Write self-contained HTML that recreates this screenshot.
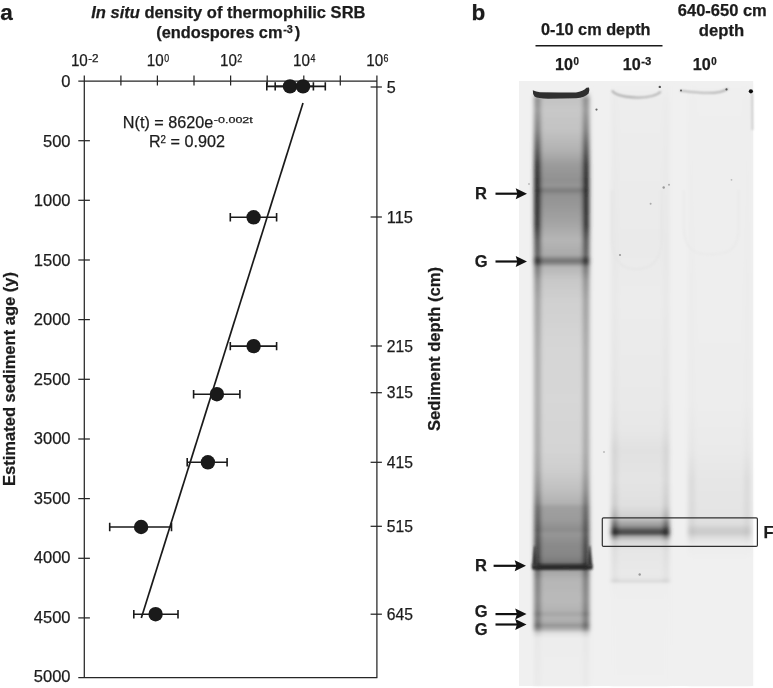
<!DOCTYPE html>
<html><head><meta charset="utf-8"><title>Figure</title>
<style>
html,body{margin:0;padding:0;background:#fff}
svg{display:block}
text{font-family:"Liberation Sans",Arial,Helvetica,sans-serif;fill:#1c1c1c;stroke:#1c1c1c;stroke-width:0.25px}
.b{font-weight:bold}
.i{font-style:italic}
</style></head><body>
<svg width="773" height="688" viewBox="0 0 773 688">
<defs>
<filter id="bl1" x="-20%" y="-5%" width="140%" height="110%"><feGaussianBlur stdDeviation="2.0 0.9"/></filter>
<filter id="bl2" x="-20%" y="-5%" width="140%" height="110%"><feGaussianBlur stdDeviation="2.2 1.2"/></filter>
<filter id="bl3" x="-20%" y="-100%" width="140%" height="300%"><feGaussianBlur stdDeviation="0.9"/></filter>
<filter id="bl5" x="-50%" y="-50%" width="200%" height="200%"><feGaussianBlur stdDeviation="1.2"/></filter>
<filter id="bl6" x="-10%" y="-10%" width="120%" height="120%" filterUnits="userSpaceOnUse"><feGaussianBlur stdDeviation="0.8"/></filter>
<filter id="bl7" x="-10%" y="-10%" width="120%" height="120%" filterUnits="userSpaceOnUse"><feGaussianBlur stdDeviation="1.0 0.8"/></filter>
<filter id="bl4" x="-50%" y="-50%" width="200%" height="200%"><feGaussianBlur stdDeviation="0.6"/></filter>
<linearGradient id="l1c" x1="0" y1="0" x2="0" y2="1">
<stop offset="0.0000" stop-color="rgb(240,240,240)"/>
<stop offset="0.0050" stop-color="rgb(240,240,240)"/>
<stop offset="0.0184" stop-color="rgb(195,195,195)"/>
<stop offset="0.0368" stop-color="rgb(200,200,200)"/>
<stop offset="0.0702" stop-color="rgb(195,195,195)"/>
<stop offset="0.1037" stop-color="rgb(178,178,178)"/>
<stop offset="0.1288" stop-color="rgb(155,155,155)"/>
<stop offset="0.1538" stop-color="rgb(145,145,145)"/>
<stop offset="0.1639" stop-color="rgb(148,148,148)"/>
<stop offset="0.1689" stop-color="rgb(132,132,132)"/>
<stop offset="0.1714" stop-color="rgb(125,125,125)"/>
<stop offset="0.1739" stop-color="rgb(132,132,132)"/>
<stop offset="0.1789" stop-color="rgb(146,146,146)"/>
<stop offset="0.2040" stop-color="rgb(155,155,155)"/>
<stop offset="0.2291" stop-color="rgb(166,166,166)"/>
<stop offset="0.2542" stop-color="rgb(182,182,182)"/>
<stop offset="0.2793" stop-color="rgb(170,170,170)"/>
<stop offset="0.2860" stop-color="rgb(130,130,130)"/>
<stop offset="0.2893" stop-color="rgb(115,115,115)"/>
<stop offset="0.2926" stop-color="rgb(130,130,130)"/>
<stop offset="0.2993" stop-color="rgb(182,182,182)"/>
<stop offset="0.3211" stop-color="rgb(200,200,200)"/>
<stop offset="0.3545" stop-color="rgb(208,208,208)"/>
<stop offset="0.4381" stop-color="rgb(214,214,214)"/>
<stop offset="0.5217" stop-color="rgb(215,215,215)"/>
<stop offset="0.6054" stop-color="rgb(212,212,212)"/>
<stop offset="0.6388" stop-color="rgb(206,206,206)"/>
<stop offset="0.6722" stop-color="rgb(192,192,192)"/>
<stop offset="0.6940" stop-color="rgb(178,178,178)"/>
<stop offset="0.7007" stop-color="rgb(160,160,160)"/>
<stop offset="0.7224" stop-color="rgb(155,155,155)"/>
<stop offset="0.7391" stop-color="rgb(140,140,140)"/>
<stop offset="0.7458" stop-color="rgb(150,150,150)"/>
<stop offset="0.7642" stop-color="rgb(138,138,138)"/>
<stop offset="0.7809" stop-color="rgb(135,135,135)"/>
<stop offset="0.7926" stop-color="rgb(122,122,122)"/>
<stop offset="0.7977" stop-color="rgb(70,70,70)"/>
<stop offset="0.8043" stop-color="rgb(70,70,70)"/>
<stop offset="0.8077" stop-color="rgb(165,165,165)"/>
<stop offset="0.8227" stop-color="rgb(182,182,182)"/>
<stop offset="0.8562" stop-color="rgb(186,186,186)"/>
<stop offset="0.8729" stop-color="rgb(180,180,180)"/>
<stop offset="0.8796" stop-color="rgb(165,165,165)"/>
<stop offset="0.8863" stop-color="rgb(178,178,178)"/>
<stop offset="0.8930" stop-color="rgb(172,172,172)"/>
<stop offset="0.8988" stop-color="rgb(150,150,150)"/>
<stop offset="0.9047" stop-color="rgb(174,174,174)"/>
<stop offset="0.9114" stop-color="rgb(224,224,224)"/>
<stop offset="0.9197" stop-color="rgb(237,237,237)"/>
<stop offset="1.0000" stop-color="rgb(238,238,238)"/>
</linearGradient>
<linearGradient id="l1e" x1="0" y1="0" x2="0" y2="1">
<stop offset="0.0000" stop-color="rgb(240,240,240)"/>
<stop offset="0.0050" stop-color="rgb(240,240,240)"/>
<stop offset="0.0184" stop-color="rgb(140,140,140)"/>
<stop offset="0.0368" stop-color="rgb(150,150,150)"/>
<stop offset="0.0702" stop-color="rgb(125,125,125)"/>
<stop offset="0.1037" stop-color="rgb(80,80,80)"/>
<stop offset="0.1288" stop-color="rgb(45,45,45)"/>
<stop offset="0.1538" stop-color="rgb(35,35,35)"/>
<stop offset="0.1639" stop-color="rgb(35,35,35)"/>
<stop offset="0.1689" stop-color="rgb(32,32,32)"/>
<stop offset="0.1714" stop-color="rgb(30,30,30)"/>
<stop offset="0.1739" stop-color="rgb(32,32,32)"/>
<stop offset="0.1789" stop-color="rgb(35,35,35)"/>
<stop offset="0.2040" stop-color="rgb(35,35,35)"/>
<stop offset="0.2291" stop-color="rgb(40,40,40)"/>
<stop offset="0.2542" stop-color="rgb(80,80,80)"/>
<stop offset="0.2793" stop-color="rgb(92,92,92)"/>
<stop offset="0.2860" stop-color="rgb(50,50,50)"/>
<stop offset="0.2893" stop-color="rgb(40,40,40)"/>
<stop offset="0.2926" stop-color="rgb(55,55,55)"/>
<stop offset="0.2993" stop-color="rgb(115,115,115)"/>
<stop offset="0.3211" stop-color="rgb(145,145,145)"/>
<stop offset="0.3545" stop-color="rgb(160,160,160)"/>
<stop offset="0.4381" stop-color="rgb(170,170,170)"/>
<stop offset="0.5217" stop-color="rgb(172,172,172)"/>
<stop offset="0.6054" stop-color="rgb(168,168,168)"/>
<stop offset="0.6388" stop-color="rgb(160,160,160)"/>
<stop offset="0.6722" stop-color="rgb(140,140,140)"/>
<stop offset="0.6940" stop-color="rgb(118,118,118)"/>
<stop offset="0.7007" stop-color="rgb(105,105,105)"/>
<stop offset="0.7224" stop-color="rgb(92,92,92)"/>
<stop offset="0.7391" stop-color="rgb(80,80,80)"/>
<stop offset="0.7458" stop-color="rgb(85,85,85)"/>
<stop offset="0.7642" stop-color="rgb(70,70,70)"/>
<stop offset="0.7809" stop-color="rgb(62,62,62)"/>
<stop offset="0.7926" stop-color="rgb(55,55,55)"/>
<stop offset="0.7977" stop-color="rgb(40,40,40)"/>
<stop offset="0.8043" stop-color="rgb(45,45,45)"/>
<stop offset="0.8077" stop-color="rgb(105,105,105)"/>
<stop offset="0.8227" stop-color="rgb(128,128,128)"/>
<stop offset="0.8562" stop-color="rgb(135,135,135)"/>
<stop offset="0.8729" stop-color="rgb(128,128,128)"/>
<stop offset="0.8796" stop-color="rgb(112,112,112)"/>
<stop offset="0.8863" stop-color="rgb(128,128,128)"/>
<stop offset="0.8930" stop-color="rgb(120,120,120)"/>
<stop offset="0.8988" stop-color="rgb(102,102,102)"/>
<stop offset="0.9047" stop-color="rgb(132,132,132)"/>
<stop offset="0.9114" stop-color="rgb(206,206,206)"/>
<stop offset="0.9197" stop-color="rgb(232,232,232)"/>
<stop offset="1.0000" stop-color="rgb(234,234,234)"/>
</linearGradient>
<linearGradient id="l2c" x1="0" y1="0" x2="0" y2="1">
<stop offset="0.0000" stop-color="rgb(240,240,240)"/>
<stop offset="0.0266" stop-color="rgb(237,237,237)"/>
<stop offset="0.2757" stop-color="rgb(234,234,234)"/>
<stop offset="0.3588" stop-color="rgb(236,236,236)"/>
<stop offset="0.5249" stop-color="rgb(233,233,233)"/>
<stop offset="0.5748" stop-color="rgb(231,231,231)"/>
<stop offset="0.6080" stop-color="rgb(225,225,225)"/>
<stop offset="0.6578" stop-color="rgb(228,228,228)"/>
<stop offset="0.6993" stop-color="rgb(224,224,224)"/>
<stop offset="0.7176" stop-color="rgb(210,210,210)"/>
<stop offset="0.7259" stop-color="rgb(180,180,180)"/>
<stop offset="0.7342" stop-color="rgb(150,150,150)"/>
<stop offset="0.7392" stop-color="rgb(105,105,105)"/>
<stop offset="0.7434" stop-color="rgb(72,72,72)"/>
<stop offset="0.7475" stop-color="rgb(85,85,85)"/>
<stop offset="0.7517" stop-color="rgb(170,170,170)"/>
<stop offset="0.7591" stop-color="rgb(214,214,214)"/>
<stop offset="0.7741" stop-color="rgb(230,230,230)"/>
<stop offset="0.8156" stop-color="rgb(233,233,233)"/>
<stop offset="0.8223" stop-color="rgb(229,229,229)"/>
<stop offset="0.8256" stop-color="rgb(217,217,217)"/>
<stop offset="0.8306" stop-color="rgb(237,237,237)"/>
<stop offset="0.8571" stop-color="rgb(239,239,239)"/>
<stop offset="1.0000" stop-color="rgb(240,240,240)"/>
</linearGradient>
<linearGradient id="l2e" x1="0" y1="0" x2="0" y2="1">
<stop offset="0.0000" stop-color="rgb(240,240,240)"/>
<stop offset="0.0266" stop-color="rgb(235,235,235)"/>
<stop offset="0.2757" stop-color="rgb(231,231,231)"/>
<stop offset="0.3588" stop-color="rgb(232,232,232)"/>
<stop offset="0.5249" stop-color="rgb(228,228,228)"/>
<stop offset="0.5748" stop-color="rgb(222,222,222)"/>
<stop offset="0.6080" stop-color="rgb(212,212,212)"/>
<stop offset="0.6578" stop-color="rgb(214,214,214)"/>
<stop offset="0.6993" stop-color="rgb(204,204,204)"/>
<stop offset="0.7176" stop-color="rgb(175,175,175)"/>
<stop offset="0.7259" stop-color="rgb(130,130,130)"/>
<stop offset="0.7342" stop-color="rgb(90,90,90)"/>
<stop offset="0.7392" stop-color="rgb(50,50,50)"/>
<stop offset="0.7434" stop-color="rgb(35,35,35)"/>
<stop offset="0.7475" stop-color="rgb(40,40,40)"/>
<stop offset="0.7517" stop-color="rgb(120,120,120)"/>
<stop offset="0.7591" stop-color="rgb(198,198,198)"/>
<stop offset="0.7741" stop-color="rgb(222,222,222)"/>
<stop offset="0.8156" stop-color="rgb(227,227,227)"/>
<stop offset="0.8223" stop-color="rgb(221,221,221)"/>
<stop offset="0.8256" stop-color="rgb(209,209,209)"/>
<stop offset="0.8306" stop-color="rgb(237,237,237)"/>
<stop offset="0.8571" stop-color="rgb(239,239,239)"/>
<stop offset="1.0000" stop-color="rgb(240,240,240)"/>
</linearGradient>
<linearGradient id="l3c" x1="0" y1="0" x2="0" y2="1">
<stop offset="0.0000" stop-color="rgb(240,240,240)"/>
<stop offset="0.0266" stop-color="rgb(239,239,239)"/>
<stop offset="0.5249" stop-color="rgb(237,237,237)"/>
<stop offset="0.6080" stop-color="rgb(234,234,234)"/>
<stop offset="0.6578" stop-color="rgb(230,230,230)"/>
<stop offset="0.7159" stop-color="rgb(228,228,228)"/>
<stop offset="0.7309" stop-color="rgb(222,222,222)"/>
<stop offset="0.7392" stop-color="rgb(206,206,206)"/>
<stop offset="0.7458" stop-color="rgb(204,204,204)"/>
<stop offset="0.7542" stop-color="rgb(224,224,224)"/>
<stop offset="0.7658" stop-color="rgb(237,237,237)"/>
<stop offset="0.7907" stop-color="rgb(240,240,240)"/>
<stop offset="1.0000" stop-color="rgb(240,240,240)"/>
</linearGradient>
<linearGradient id="l3e" x1="0" y1="0" x2="0" y2="1">
<stop offset="0.0000" stop-color="rgb(240,240,240)"/>
<stop offset="0.0266" stop-color="rgb(238,238,238)"/>
<stop offset="0.5249" stop-color="rgb(235,235,235)"/>
<stop offset="0.6080" stop-color="rgb(230,230,230)"/>
<stop offset="0.6578" stop-color="rgb(220,220,220)"/>
<stop offset="0.7159" stop-color="rgb(218,218,218)"/>
<stop offset="0.7309" stop-color="rgb(214,214,214)"/>
<stop offset="0.7392" stop-color="rgb(200,200,200)"/>
<stop offset="0.7458" stop-color="rgb(198,198,198)"/>
<stop offset="0.7542" stop-color="rgb(220,220,220)"/>
<stop offset="0.7658" stop-color="rgb(236,236,236)"/>
<stop offset="0.7907" stop-color="rgb(240,240,240)"/>
<stop offset="1.0000" stop-color="rgb(240,240,240)"/>
</linearGradient>
</defs>
<rect x="0" y="0" width="773" height="688" fill="#ffffff"/>
<text x="0.2" y="20.2" font-size="22.5" class="b">a</text>
<text x="91.2" y="17.6" font-size="16.5" textLength="274.3" lengthAdjust="spacingAndGlyphs" class="b"><tspan class="i">In situ</tspan> density of thermophilic SRB</text>
<text x="156.2" y="37.6" font-size="16.5" textLength="126.3" lengthAdjust="spacingAndGlyphs" class="b">(endospores cm</text>
<text x="283.2" y="33.4" font-size="10" textLength="9.6" lengthAdjust="spacingAndGlyphs" class="b">-3</text>
<text x="294.8" y="37.6" font-size="16.5" class="b">)</text>
<g stroke="#262626" stroke-width="1.25" fill="none" stroke-linecap="butt">
<path d="M78.3 81.0 H376.9 M78.3 677.6 H377.4 M84.3 75.5 V677.6 M376.9 75.5 V678.1"/>
<path d="M120.9 75.5 V85.5"/>
<path d="M157.4 75.5 V85.5"/>
<path d="M194.0 75.5 V85.5"/>
<path d="M230.6 75.5 V85.5"/>
<path d="M267.2 75.5 V85.5"/>
<path d="M303.8 75.5 V85.5"/>
<path d="M340.3 75.5 V85.5"/>
<path d="M78.3 140.7 H89.9"/>
<path d="M78.3 200.3 H89.9"/>
<path d="M78.3 260.0 H89.9"/>
<path d="M78.3 319.6 H89.9"/>
<path d="M78.3 379.3 H89.9"/>
<path d="M78.3 439.0 H89.9"/>
<path d="M78.3 498.6 H89.9"/>
<path d="M78.3 558.3 H89.9"/>
<path d="M78.3 617.9 H89.9"/>
<path d="M370.6 87.0 H381.9"/>
<path d="M370.6 217.0 H381.9"/>
<path d="M370.6 346.0 H381.9"/>
<path d="M370.6 392.7 H381.9"/>
<path d="M370.6 462.3 H381.9"/>
<path d="M370.6 526.3 H381.9"/>
<path d="M370.6 614.2 H381.9"/>
</g>
<text x="70.9" y="66.4" font-size="16.5" textLength="16.9" lengthAdjust="spacingAndGlyphs">10</text>
<text x="88.2" y="61.6" font-size="10" textLength="10.4" lengthAdjust="spacingAndGlyphs">-2</text>
<text x="146.8" y="66.4" font-size="16.5" textLength="16.9" lengthAdjust="spacingAndGlyphs">10</text>
<text x="164.2" y="61.6" font-size="10" textLength="4.9" lengthAdjust="spacingAndGlyphs">0</text>
<text x="220.0" y="66.4" font-size="16.5" textLength="16.9" lengthAdjust="spacingAndGlyphs">10</text>
<text x="237.3" y="61.6" font-size="10" textLength="4.9" lengthAdjust="spacingAndGlyphs">2</text>
<text x="293.1" y="66.4" font-size="16.5" textLength="16.9" lengthAdjust="spacingAndGlyphs">10</text>
<text x="310.4" y="61.6" font-size="10" textLength="4.9" lengthAdjust="spacingAndGlyphs">4</text>
<text x="366.3" y="66.4" font-size="16.5" textLength="16.9" lengthAdjust="spacingAndGlyphs">10</text>
<text x="383.6" y="61.6" font-size="10" textLength="4.9" lengthAdjust="spacingAndGlyphs">6</text>
<text x="70.5" y="87.2" font-size="16.5" text-anchor="end">0</text>
<text x="70.5" y="146.7" font-size="16.5" text-anchor="end">500</text>
<text x="70.5" y="206.2" font-size="16.5" text-anchor="end">1000</text>
<text x="70.5" y="265.8" font-size="16.5" text-anchor="end">1500</text>
<text x="70.5" y="325.3" font-size="16.5" text-anchor="end">2000</text>
<text x="70.5" y="384.8" font-size="16.5" text-anchor="end">2500</text>
<text x="70.5" y="444.3" font-size="16.5" text-anchor="end">3000</text>
<text x="70.5" y="503.8" font-size="16.5" text-anchor="end">3500</text>
<text x="70.5" y="563.4" font-size="16.5" text-anchor="end">4000</text>
<text x="70.5" y="622.9" font-size="16.5" text-anchor="end">4500</text>
<text x="70.5" y="682.4" font-size="16.5" text-anchor="end">5000</text>
<text x="386.8" y="92.7" font-size="16.5" textLength="9.0" lengthAdjust="spacingAndGlyphs">5</text>
<text x="386.8" y="222.7" font-size="16.5" textLength="26.2" lengthAdjust="spacingAndGlyphs">115</text>
<text x="386.8" y="351.7" font-size="16.5" textLength="26.2" lengthAdjust="spacingAndGlyphs">215</text>
<text x="386.8" y="398.4" font-size="16.5" textLength="26.2" lengthAdjust="spacingAndGlyphs">315</text>
<text x="386.8" y="468.0" font-size="16.5" textLength="26.2" lengthAdjust="spacingAndGlyphs">415</text>
<text x="386.8" y="532.0" font-size="16.5" textLength="26.2" lengthAdjust="spacingAndGlyphs">515</text>
<text x="386.8" y="619.9" font-size="16.5" textLength="26.2" lengthAdjust="spacingAndGlyphs">645</text>
<text class="b" font-size="16.5" text-anchor="middle" transform="translate(14.6 379) rotate(-90)" textLength="214" lengthAdjust="spacingAndGlyphs">Estimated sediment age (y)</text>
<text class="b" font-size="16.5" text-anchor="middle" transform="translate(439.6 349) rotate(-90)" textLength="164" lengthAdjust="spacingAndGlyphs">Sediment depth (cm)</text>
<text x="122.8" y="128.0" font-size="16.5" textLength="90.5" lengthAdjust="spacingAndGlyphs">N(t) = 8620e</text>
<text x="213.8" y="123.3" font-size="9.6" textLength="39.0" lengthAdjust="spacingAndGlyphs">-0.002t</text>
<text x="148.9" y="147.3" font-size="16.5" textLength="11.6" lengthAdjust="spacingAndGlyphs">R</text>
<text x="160.5" y="143.0" font-size="10" textLength="5.4" lengthAdjust="spacingAndGlyphs">2</text>
<text x="170.5" y="147.3" font-size="16.5" textLength="54.4" lengthAdjust="spacingAndGlyphs">= 0.902</text>
<path d="M303 103 L141.3 618" stroke="#1a1a1a" stroke-width="1.7" fill="none"/>
<g stroke="#1a1a1a" stroke-width="1.6" fill="none">
<path d="M266.8 86.4 H313.4 M266.8 82.2 V90.6 M313.4 82.2 V90.6"/>
<path d="M275.2 86.4 H325.3 M275.2 82.2 V90.6 M325.3 82.2 V90.6"/>
<path d="M230.3 217.3 H276.6 M230.3 213.1 V221.5 M276.6 213.1 V221.5"/>
<path d="M230.3 346.1 H276.6 M230.3 341.9 V350.3 M276.6 341.9 V350.3"/>
<path d="M193.6 394.2 H239.9 M193.6 390.0 V398.4 M239.9 390.0 V398.4"/>
<path d="M187.2 462.3 H227.1 M187.2 458.1 V466.5 M227.1 458.1 V466.5"/>
<path d="M109.7 527.0 H171.5 M109.7 522.8 V531.2 M171.5 522.8 V531.2"/>
<path d="M133.8 614.2 H178.0 M133.8 610.0 V618.4 M178.0 610.0 V618.4"/>
</g>
<g fill="#1a1a1a">
<circle cx="290.0" cy="86.4" r="7.2"/>
<circle cx="303.0" cy="86.4" r="7.2"/>
<circle cx="253.6" cy="217.3" r="7.2"/>
<circle cx="253.6" cy="346.1" r="7.2"/>
<circle cx="216.9" cy="394.2" r="7.2"/>
<circle cx="207.9" cy="462.3" r="7.2"/>
<circle cx="141.1" cy="527.0" r="7.2"/>
<circle cx="155.6" cy="614.2" r="7.2"/>
</g>
<text x="471.6" y="20.2" font-size="22.5" class="b">b</text>
<text x="541.0" y="35.3" font-size="16.5" textLength="109.5" lengthAdjust="spacingAndGlyphs" class="b">0-10 cm depth</text>
<path d="M535.5 45.7 H662.5" stroke="#1a1a1a" stroke-width="1.6"/>
<text x="677.8" y="16.4" font-size="16.5" textLength="89.0" lengthAdjust="spacingAndGlyphs" class="b">640-650 cm</text>
<text x="698.8" y="35.6" font-size="16.5" textLength="45.3" lengthAdjust="spacingAndGlyphs" class="b">depth</text>
<text x="555.0" y="69.8" font-size="16.5" textLength="18.0" lengthAdjust="spacingAndGlyphs" class="b">10</text>
<text x="573.4" y="65.2" font-size="10" textLength="5.4" lengthAdjust="spacingAndGlyphs" class="b">0</text>
<text x="622.8" y="69.8" font-size="16.5" textLength="18.0" lengthAdjust="spacingAndGlyphs" class="b">10</text>
<text x="641.2" y="65.2" font-size="10" textLength="10.0" lengthAdjust="spacingAndGlyphs" class="b">-3</text>
<text x="692.8" y="69.8" font-size="16.5" textLength="18.0" lengthAdjust="spacingAndGlyphs" class="b">10</text>
<text x="711.2" y="65.2" font-size="10" textLength="5.4" lengthAdjust="spacingAndGlyphs" class="b">0</text>
<rect x="519.0" y="81.0" width="234.2" height="605.0" fill="rgb(240,240,240)"/>
<g filter="url(#bl1)">
<rect x="534.2" y="88.0" width="55.0" height="598.0" fill="url(#l1c)"/>
<rect x="534.2" y="88.0" width="6.5" height="598.0" fill="url(#l1e)"/>
<rect x="582.7" y="88.0" width="6.5" height="598.0" fill="url(#l1e)"/>
</g>
<g filter="url(#bl2)">
<rect x="611.5" y="84.0" width="57.8" height="602.0" fill="url(#l2c)"/>
<rect x="611.5" y="84.0" width="6.0" height="602.0" fill="url(#l2e)"/>
<rect x="663.3" y="84.0" width="6.0" height="602.0" fill="url(#l2e)"/>
</g>
<g filter="url(#bl2)">
<rect x="688.0" y="84.0" width="63.0" height="602.0" fill="url(#l3c)"/>
<rect x="688.0" y="84.0" width="7.0" height="602.0" fill="url(#l3e)"/>
<rect x="744.0" y="84.0" width="7.0" height="602.0" fill="url(#l3e)"/>
</g>
<path d="M532.8 90.2 Q536 91.6 540 92.2 L560 92.6 L576 92.6 Q583 91.5 586.5 87.8 L589 87.4 Q590 90 588.6 93.5 Q585 97.6 576 98.2 L548 98.8 Q538 98.6 534.5 96.5 Q532.6 94 532.8 90.2 Z" fill="#2e2e2e" filter="url(#bl4)"/>
<path d="M532.4 565 Q534 564.6 538 565.2 L586 565 Q590 564.4 592.2 565 Q593.2 567.2 592.2 569.4 Q588 569.6 584 569 L540 569.2 Q535 569.8 532.4 569.4 Q531.4 567.2 532.4 565 Z" fill="#2c2c2c" filter="url(#bl7)"/>
<path d="M532.2 566 L534.2 546 L535.4 546 L537.5 566 Z M592.4 566 L590.2 546 L589 546 L587 566 Z" fill="#383838" filter="url(#bl5)"/>
<g fill="none" filter="url(#bl6)">
<path d="M612 90.5 Q614 94.5 625 96.5 Q640 99 652 96 Q659 94 660.8 91.5" stroke="#a8a8a8" stroke-width="1.8"/>
<path d="M680 90.6 Q690 92 700 92.6 Q712 93.4 720 92 Q725 90.6 728 88.6" stroke="#a0a0a0" stroke-width="1.4"/>
<path d="M612.3 190 L612.3 240 Q613 262 626 267.5 Q637 271 648 267 Q661 261 661.6 240 L661.6 190" stroke="#e6e6e6" stroke-width="2.2"/>
<path d="M684 190 L684 230 Q685 250 700 253.5 Q712 255.5 724 253 Q738 249 738.6 230 L738.6 190" stroke="#eaeaea" stroke-width="2.2"/>
<path d="M752.2 93 L752.4 130" stroke="#c8c8c8" stroke-width="1.6"/>
</g>
<g fill="#333" filter="url(#bl4)">
<circle cx="750.9" cy="91.3" r="2.1" fill="#111"/>
<circle cx="659.8" cy="86.9" r="1.2" fill="#555"/>
<circle cx="681" cy="90.6" r="1.0" fill="#555"/><circle cx="726.5" cy="89.4" r="1.1" fill="#555"/>
<circle cx="596.5" cy="109.6" r="1.1" fill="#666"/>
<circle cx="663.7" cy="187.5" r="1.2" fill="#999"/>
<circle cx="669.0" cy="184.7" r="1.0" fill="#aaa"/>
<circle cx="650.6" cy="203.7" r="1.0" fill="#aaa"/>
<circle cx="620.0" cy="255.0" r="1.1" fill="#999"/>
<circle cx="731.5" cy="179.8" r="0.9" fill="#bbb"/>
<circle cx="529.0" cy="184.0" r="1.0" fill="#bbb"/>
<circle cx="639.7" cy="574.5" r="1.2" fill="#999"/>
<circle cx="604.0" cy="452.0" r="1.0" fill="#bbb"/>
</g>
<rect x="602.3" y="517.8" width="155.1" height="28.6" fill="none" stroke="#303030" stroke-width="1.2" rx="1.2"/>
<text x="763.5" y="538.3" font-size="16.5" class="b">F</text>
<text x="475.1" y="198.6" font-size="16.5" class="b">R</text>
<path d="M495.5 193.7 H519.0" stroke="#111" stroke-width="2.2" fill="none"/><path d="M515.7 188.2 L527.0 193.7 L515.7 199.2 L517.4 193.7 Z" fill="#111"/>
<text x="474.7" y="266.8" font-size="16.5" class="b">G</text>
<path d="M495.5 261.5 H519.0" stroke="#111" stroke-width="2.2" fill="none"/><path d="M515.7 256.0 L527.0 261.5 L515.7 267.0 L517.4 261.5 Z" fill="#111"/>
<text x="475.1" y="570.7" font-size="16.5" class="b">R</text>
<path d="M493.6 565.8 H518.0" stroke="#111" stroke-width="2.2" fill="none"/><path d="M514.7 560.3 L526.0 565.8 L514.7 571.3 L516.4 565.8 Z" fill="#111"/>
<text x="474.7" y="617.0" font-size="16.5" class="b">G</text>
<path d="M495.5 614.1 H518.5" stroke="#111" stroke-width="2.2" fill="none"/><path d="M515.2 608.6 L526.5 614.1 L515.2 619.6 L516.9 614.1 Z" fill="#111"/>
<text x="474.7" y="635.2" font-size="16.5" class="b">G</text>
<path d="M495.5 624.5 H518.5" stroke="#111" stroke-width="2.2" fill="none"/><path d="M515.2 619.0 L526.5 624.5 L515.2 630.0 L516.9 624.5 Z" fill="#111"/>
</svg></body></html>
